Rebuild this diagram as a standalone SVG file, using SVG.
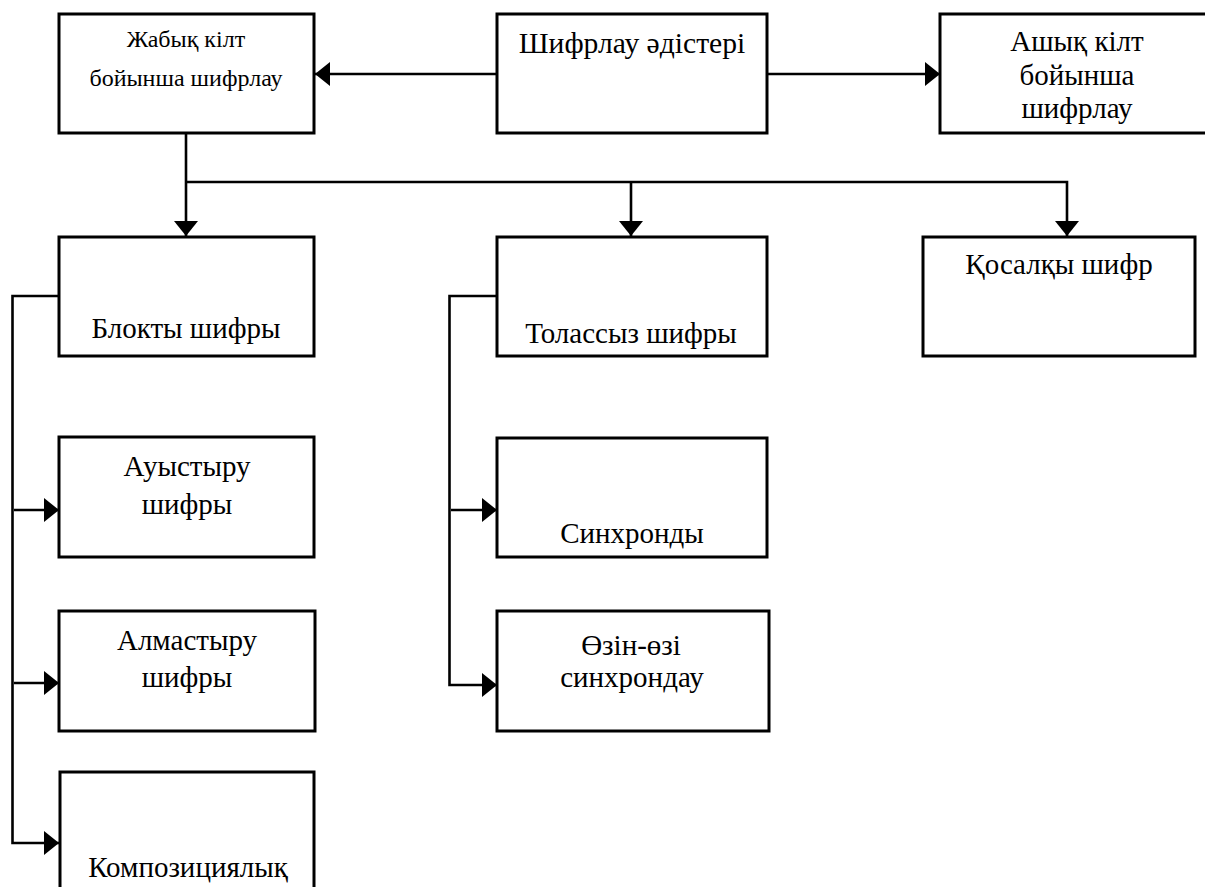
<svg xmlns="http://www.w3.org/2000/svg" width="1205" height="887" viewBox="0 0 1205 887">
<style>
.box{fill:#fff;stroke:#000;stroke-width:3}
.ln{fill:none;stroke:#000;stroke-width:2.6}
text{font-family:"Liberation Serif","Times New Roman",serif;font-size:29px;fill:#000;text-anchor:middle}
.s{font-size:24px}
.b{font-size:29.6px}
</style>
<defs>
<marker id="ah" markerUnits="userSpaceOnUse" markerWidth="16" markerHeight="26" refX="15" refY="12" orient="auto" viewBox="0 0 16 26">
<path d="M0,0 L15,12 L0,24 Z" fill="#000"/>
</marker>
</defs>
<rect width="1205" height="887" fill="#fff"/>
<g id="connectors">
<path class="ln" d="M497,74 H315" marker-end="url(#ah)"/>
<path class="ln" d="M767,74 H940" marker-end="url(#ah)"/>
<path class="ln" d="M186,133 V236" marker-end="url(#ah)"/>
<path class="ln" d="M186,182 H1067 V236" marker-end="url(#ah)"/>
<path class="ln" d="M631,182 V236" marker-end="url(#ah)"/>
<path class="ln" d="M59,296 H12.5 V843 H59" marker-end="url(#ah)"/>
<path class="ln" d="M14,510 H59" marker-end="url(#ah)"/>
<path class="ln" d="M14,683 H59" marker-end="url(#ah)"/>
<path class="ln" d="M497,296 H449.5 V685 H497" marker-end="url(#ah)"/>
<path class="ln" d="M451,510 H497" marker-end="url(#ah)"/>
</g>
<g id="zhabyk">
<rect class="box" x="59" y="14" width="255" height="119"/>
<text class="s" x="186" y="47">Жабық кілт</text>
<text class="s" x="186" y="86">бойынша шифрлау</text>
</g>
<g id="shifrlau">
<rect class="box" x="497" y="14" width="270" height="119"/>
<text class="b" x="632" y="53">Шифрлау әдістері</text>
</g>
<g id="ashyk">
<rect class="box" x="940" y="14" width="275" height="119"/>
<text x="1077" y="51">Ашық кілт</text>
<text x="1077" y="85">бойынша</text>
<text x="1077" y="118">шифрлау</text>
</g>
<g id="blokty">
<rect class="box" x="59" y="237" width="255" height="119"/>
<text x="186" y="338">Блокты шифры</text>
</g>
<g id="tolassyz">
<rect class="box" x="497" y="237" width="270" height="119"/>
<text x="631" y="343">Толассыз шифры</text>
</g>
<g id="kosalky">
<rect class="box" x="923" y="237" width="272" height="119"/>
<text x="1059" y="274">Қосалқы шифр</text>
</g>
<g id="auystyru">
<rect class="box" x="59" y="437" width="255" height="120"/>
<text x="187" y="476">Ауыстыру</text>
<text x="187" y="514">шифры</text>
</g>
<g id="almastyru">
<rect class="box" x="59" y="611" width="256" height="120"/>
<text x="187" y="650">Алмастыру</text>
<text x="187" y="687">шифры</text>
</g>
<g id="kompozic">
<rect class="box" x="60" y="772" width="254" height="130"/>
<text x="188" y="877">Композициялық</text>
</g>
<g id="sinhrondy">
<rect class="box" x="497" y="438" width="270" height="119"/>
<text x="632" y="543">Синхронды</text>
</g>
<g id="ozin">
<rect class="box" x="497" y="611" width="272" height="120"/>
<text x="631" y="655">Өзін-өзі</text>
<text x="632" y="687">синхрондау</text>
</g>
</svg>
